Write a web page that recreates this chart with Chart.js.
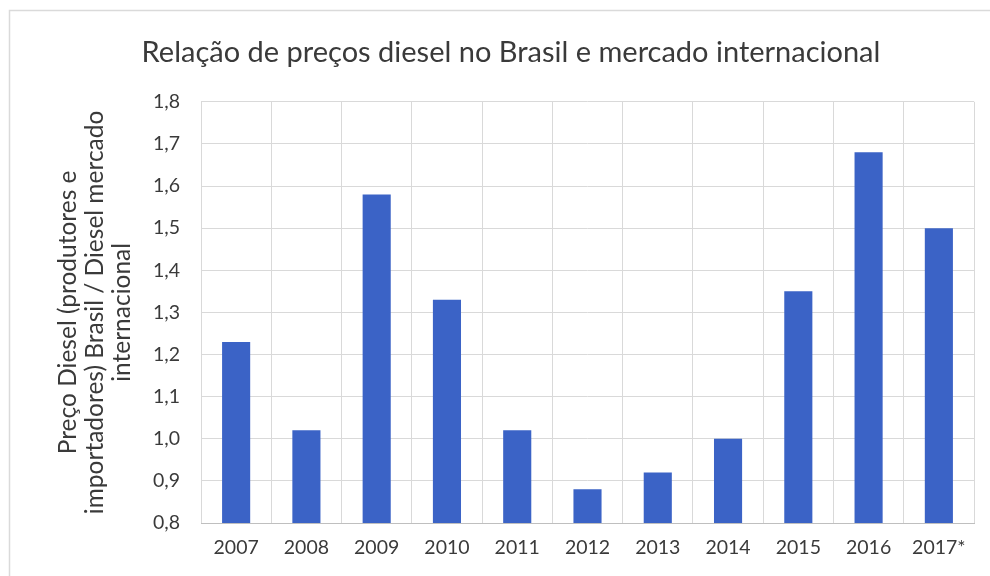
<!DOCTYPE html>
<html>
<head>
<meta charset="utf-8">
<script src="https://cdn.jsdelivr.net/npm/chart.js@4/dist/chart.umd.min.js"></script>
<style>
  html, body { margin: 0; padding: 0; background: #fff; }
  #wrap { width: 990px; height: 576px; }
</style>
</head>
<body>
<div id="wrap"><canvas id="dieselChart" width="990" height="576"></canvas></div>
<script>
// Data
const years = ['2007', '2008', '2009', '2010', '2011', '2012', '2013', '2014', '2015', '2016', '2017*'];
const priceRatio = [1.23, 1.02, 1.58, 1.33, 1.02, 0.88, 0.92, 1.00, 1.35, 1.68, 1.50];
const yTicks = [0.8, 0.9, 1.0, 1.1, 1.2, 1.3, 1.4, 1.5, 1.6, 1.7, 1.8];

const chartTitle = 'Relação de preços diesel no Brasil e mercado internacional';
const yTitle = ['Preço Diesel (produtores e', 'importadores) Brasil / Diesel mercado', 'internacional'];

const FONT = 'Lato, "Open Sans", sans-serif';

// light frame on top and left, like the scanned original
const framePlugin = {
    id: 'frame',
    beforeDraw(chart) {
        const ctx = chart.ctx;
        ctx.save();
        ctx.fillStyle = '#fff';
        ctx.fillRect(0, 0, chart.width, chart.height);
        ctx.strokeStyle = '#dadada';
        ctx.lineWidth = 1.5;
        ctx.beginPath();
        ctx.moveTo(9.5, chart.height);
        ctx.lineTo(9.5, 10.5);
        ctx.lineTo(chart.width, 10.5);
        ctx.stroke();
        ctx.restore();
    }
};

const ctx = document.getElementById('dieselChart').getContext('2d');
new Chart(ctx, {
    type: 'bar',
    data: {
        labels: years,
        datasets: [{
            data: priceRatio,
            backgroundColor: '#3b63c6',
            borderWidth: 0,
            categoryPercentage: 1.0,
            barPercentage: 0.4
        }]
    },
    options: {
        responsive: false,
        animation: false,
        layout: { padding: { left: 48, right: 16, top: 0, bottom: 0 } },
        plugins: {
            legend: { display: false },
            tooltip: { enabled: false },
            title: {
                display: true,
                text: chartTitle,
                color: '#3a3a3a',
                font: { family: FONT, size: 29, weight: 'normal', lineHeight: 1.2 },
                padding: { top: 35, bottom: 32 }
            }
        },
        scales: {
            x: {
                grid: { color: '#d9d9d9', drawTicks: false, offset: true },
                border: { color: '#bfbfbf' },
                ticks: {
                    color: '#3a3a3a',
                    font: { family: FONT, size: 19.5 },
                    padding: 13,
                    maxRotation: 0
                },
                afterFit(scale) { scale.height = 53; }
            },
            y: {
                min: 0.8,
                max: 1.8,
                grid: { color: '#d9d9d9', drawTicks: false },
                border: { display: false },
                afterBuildTicks(scale) {
                    scale.ticks = yTicks.map(v => ({ value: v }));
                },
                ticks: {
                    color: '#3a3a3a',
                    font: { family: FONT, size: 19.5 },
                    padding: 21,
                    callback: v => v.toFixed(1).replace('.', ',')
                },
                title: {
                    display: true,
                    text: yTitle,
                    color: '#3a3a3a',
                    font: { family: FONT, size: 24.5, lineHeight: 1.1 },
                    padding: { top: 7, bottom: 0 }
                },
                afterFit(scale) { scale.width = 153; }
            }
        }
    },
    plugins: [framePlugin]
});
</script>
</body>
</html>
